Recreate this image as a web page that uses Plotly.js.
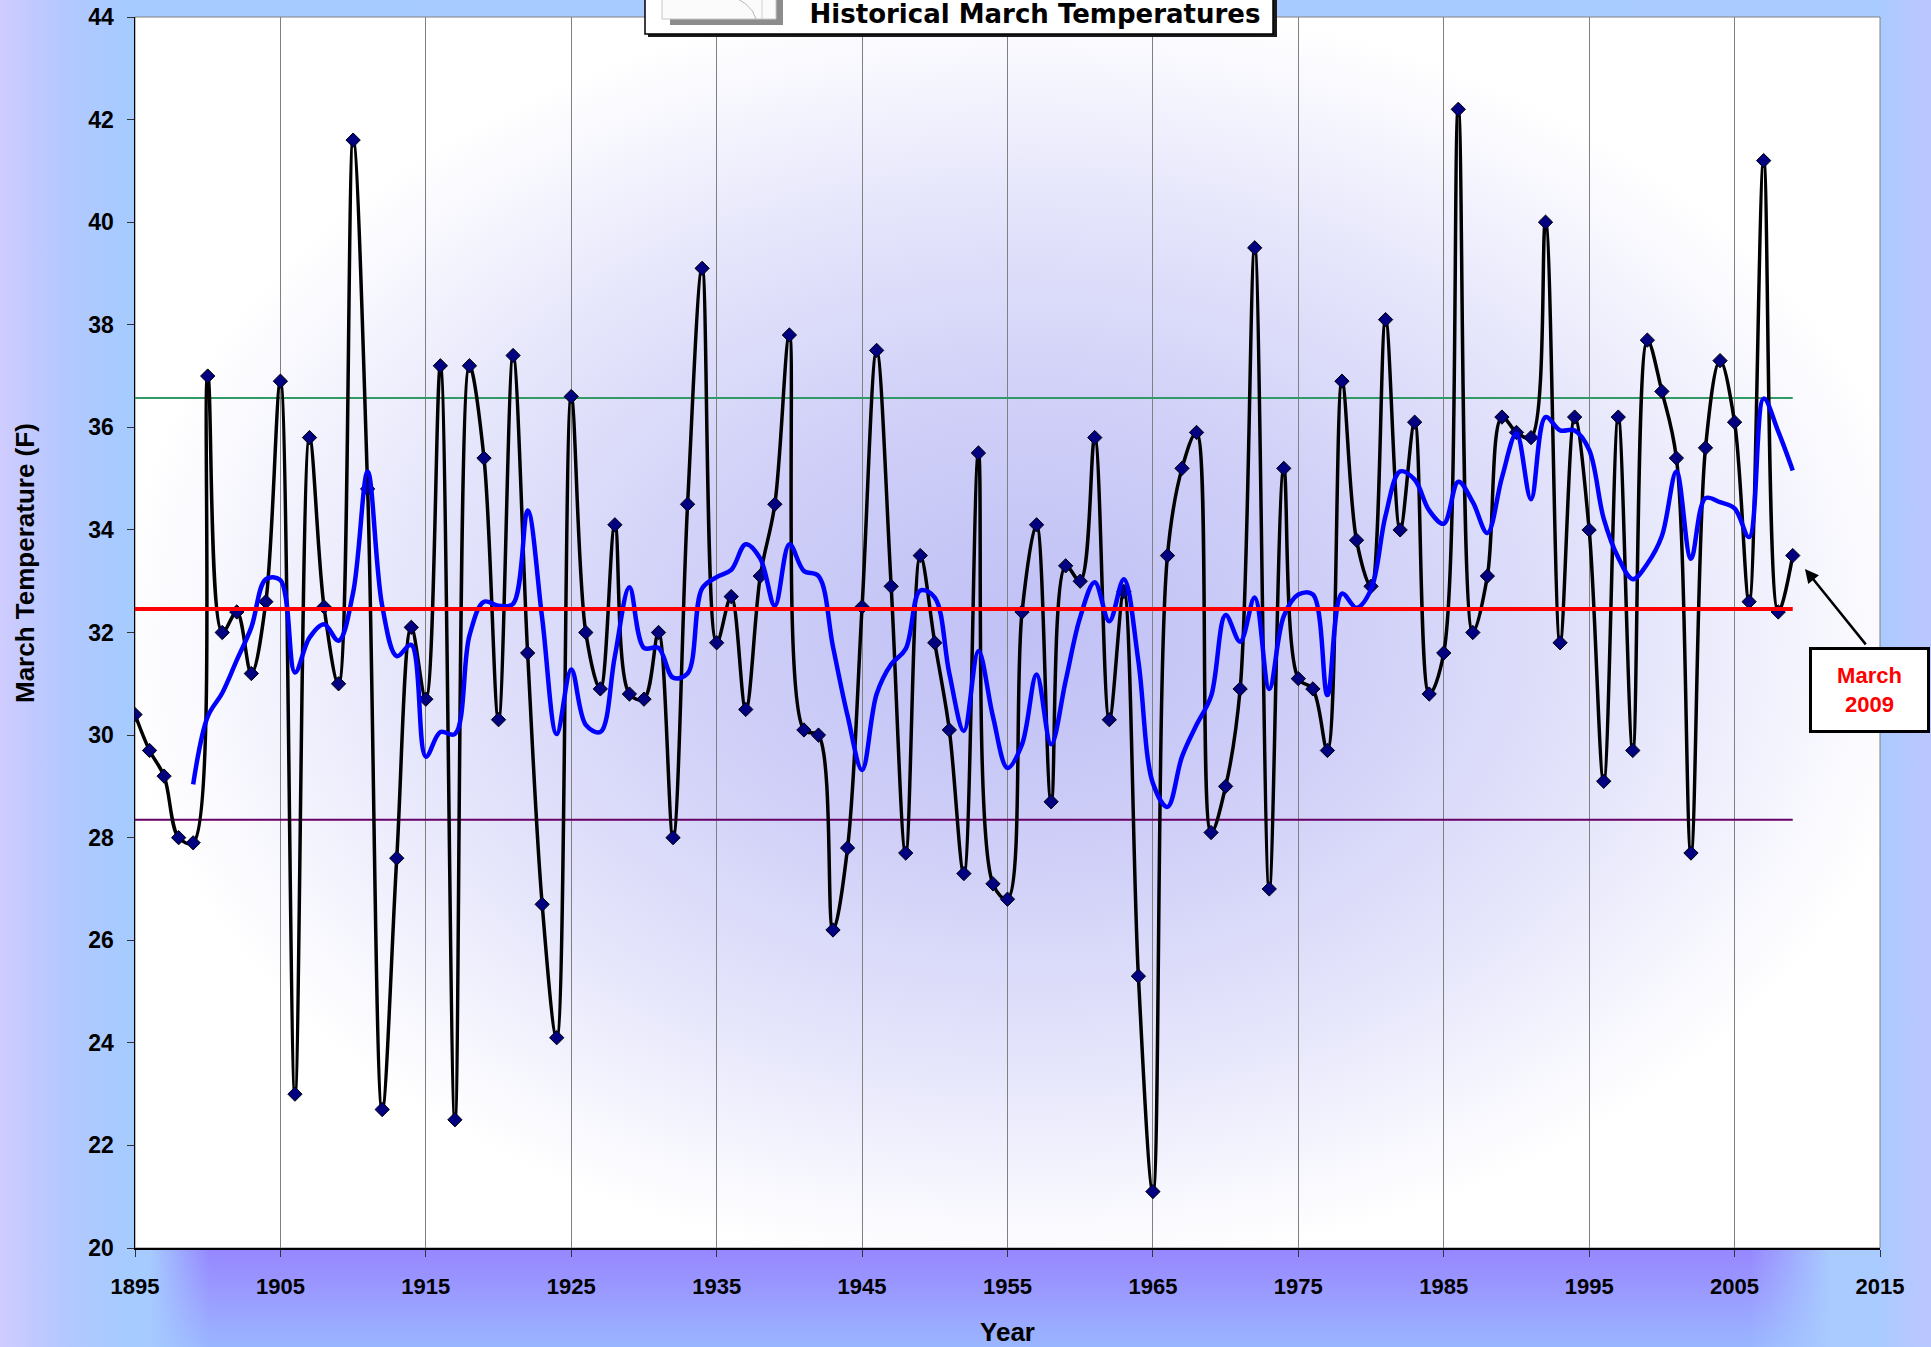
<!DOCTYPE html>
<html>
<head>
<meta charset="utf-8">
<script src="https://cdn.plot.ly/plotly-3.0.1.min.js"></script>
<style>
html,body{margin:0;padding:0;overflow:hidden;background:#A9CBFF;}
#wrap{position:relative;width:1931px;height:1347px;
  background:linear-gradient(to right,#D0CCFF 0px,#B4C8FF 60px,#A6CBFF 125px,#A9CBFF 1880px,#B4C8FF 1905px,#BAC6FF 1931px);}
#plotbg{position:absolute;left:135px;top:17px;width:1745px;height:1231px;
  background:radial-gradient(ellipse 52% 52% at 51% 50%,#C0C0F5 0%,#CFCFF8 35%,#E3E3FB 65%,#F6F6FE 88%,#FFFFFF 100%);}
#band{position:absolute;left:150px;top:1248px;width:1680px;height:99px;
  background:linear-gradient(to bottom,#9686FF 0%,#9A9AFF 45%,#9AB6FF 100%);
  -webkit-mask-image:linear-gradient(to right,transparent 0px,#000 60px,#000 1600px,transparent 1680px);
  mask-image:linear-gradient(to right,transparent 0px,#000 60px,#000 1600px,transparent 1680px);}
#chart{position:absolute;left:0;top:0;width:1931px;height:1347px;}
</style>
</head>
<body>
<div id="wrap">
  <div id="plotbg"></div>
  <div id="band"></div>
  <div id="chart"></div>
</div>
<script>
// ---- data ----
const years = [
  1895,1896,1897,1898,1899,1900,1901,1902,1903,1904,
  1905,1906,1907,1908,1909,1910,1911,1912,1913,1914,
  1915,1916,1917,1918,1919,1920,1921,1922,1923,1924,
  1925,1926,1927,1928,1929,1930,1931,1932,1933,1934,
  1935,1936,1937,1938,1939,1940,1941,1942,1943,1944,
  1945,1946,1947,1948,1949,1950,1951,1952,1953,1954,
  1955,1956,1957,1958,1959,1960,1961,1962,1963,1964,
  1965,1966,1967,1968,1969,1970,1971,1972,1973,1974,
  1975,1976,1977,1978,1979,1980,1981,1982,1983,1984,
  1985,1986,1987,1988,1989,1990,1991,1992,1993,1994,
  1995,1996,1997,1998,1999,2000,2001,2002,2003,2004,
  2005,2006,2007,2008,2009
];
const marchTemps = [
  30.4,29.7,29.2,28.0,27.9,37.0,32.0,32.4,31.2,32.6,
  36.9,23.0,35.8,32.5,31.0,41.6,34.8,22.7,27.6,32.1,
  30.7,37.2,22.5,37.2,35.4,30.3,37.4,31.6,26.7,24.1,
  36.6,32.0,30.9,34.1,30.8,30.7,32.0,28.0,34.5,39.1,
  31.8,32.7,30.5,33.1,34.5,37.8,30.1,30.0,26.2,27.8,
  32.5,37.5,32.9,27.7,33.5,31.8,30.1,27.3,35.5,27.1,
  26.8,32.4,34.1,28.7,33.3,33.0,35.8,30.3,32.8,25.3,
  21.1,33.5,35.2,35.9,28.1,29.0,30.9,39.5,27.0,35.2,
  31.1,30.9,29.7,36.9,33.8,32.9,38.1,34.0,36.1,30.8,
  31.6,42.2,32.0,33.1,36.2,35.9,35.8,40.0,31.8,36.2,
  34.0,29.1,36.2,29.7,37.7,36.7,35.4,27.7,35.6,37.3,
  36.1,32.6,41.2,32.4,33.5
];
// blue 5-year moving-average curve (1899-2009), values as drawn
const maYears = years.slice(4);
const maValues = [
  29.04,30.36,30.82,31.46,32.10,33.04,33.02,31.22,31.90,32.16,
  31.84,32.78,35.14,32.52,31.54,31.76,29.58,30.06,30.02,31.94,
  32.60,32.52,32.56,34.38,32.28,30.02,31.28,30.20,30.06,31.54,
  32.88,31.70,31.70,31.12,31.20,32.86,33.08,33.22,33.72,33.44,
  32.52,33.72,33.20,33.10,31.72,30.38,29.32,30.80,31.38,31.68,
  32.82,32.68,31.20,30.08,31.64,30.36,29.36,29.82,31.18,29.82,
  31.06,32.30,32.98,32.22,33.04,31.44,29.06,28.60,29.58,30.20,
  30.76,32.34,31.82,32.68,30.90,32.32,32.74,32.74,30.78,32.76,
  32.48,32.84,34.28,35.14,34.98,34.38,34.12,34.94,34.54,33.94,
  35.02,35.88,34.60,36.20,35.94,35.94,35.56,34.22,33.46,33.04,
  33.34,33.88,35.14,33.44,34.62,34.54,34.42,33.86,36.56,35.92,
  35.16
];
const meanTemp = 32.46;
const upperTemp = 36.57;
const lowerTemp = 28.35;
const xTickVals = [1895,1905,1915,1925,1935,1945,1955,1965,1975,1985,1995,2005,2015];
const yTickVals = [20,22,24,26,28,30,32,34,36,38,40,42,44];

// ---- geometry helpers (plot area in pixels) ----
const PL = 135, PT = 17, PW = 1745, PH = 1231;
const px = x => (x - PL) / PW;
const py = y => (PT + PH - y) / PH;

const lineEnds = [years[0], years[years.length - 1]];
const boldArial = {family: 'Liberation Sans, Arial, sans-serif', weight: 'bold', color: '#000'};

const traces = [
  {x: lineEnds, y: [upperTemp, upperTemp], mode: 'lines', line: {color: '#339966', width: 2}, hoverinfo: 'skip'},
  {x: lineEnds, y: [lowerTemp, lowerTemp], mode: 'lines', line: {color: '#660066', width: 2}, hoverinfo: 'skip'},
  {x: years, y: marchTemps, mode: 'lines+markers', line: {color: '#000000', width: 3.5, shape: 'spline', smoothing: 1},
   marker: {symbol: 'diamond', size: 11, color: '#000080', line: {color: '#000000', width: 1}}},
  {x: maYears, y: maValues, mode: 'lines', line: {color: '#0000FF', width: 4.5, shape: 'spline', smoothing: 1}},
  {x: lineEnds, y: [meanTemp, meanTemp], mode: 'lines', line: {color: '#FF0000', width: 4}, hoverinfo: 'skip'}
];

const layout = {
  width: 1931, height: 1347,
  margin: {l: PL, r: 1931 - PL - PW, t: PT, b: 1347 - PT - PH, pad: 0},
  paper_bgcolor: 'rgba(0,0,0,0)', plot_bgcolor: 'rgba(0,0,0,0)',
  showlegend: false,
  title: {
    text: 'Historical March Temperatures',
    font: {family: 'DejaVu Sans, sans-serif', size: 26, weight: 'bold', color: '#000'},
    xref: 'container', yref: 'container',
    x: 1035 / 1931, xanchor: 'center', y: 1 - 14 / 1347, yanchor: 'middle'
  },
  xaxis: {
    range: [1895, 2015], tickmode: 'array', tickvals: xTickVals,
    showgrid: true, gridcolor: '#808080', gridwidth: 1, zeroline: false,
    showline: true, linecolor: '#000', linewidth: 2,
    ticks: 'outside', ticklen: 7, tickwidth: 1, tickcolor: '#333',
    tickfont: Object.assign({size: 22}, boldArial), ticklabelstandoff: 11,
    title: {text: 'Year', font: Object.assign({size: 26}, boldArial), standoff: 33}
  },
  yaxis: {
    range: [20, 44], tickmode: 'array', tickvals: yTickVals,
    showgrid: false, zeroline: false,
    showline: true, linecolor: '#000', linewidth: 1.5,
    ticks: 'outside', ticklen: 7, tickwidth: 1, tickcolor: '#333',
    tickfont: Object.assign({size: 23}, boldArial), ticklabelstandoff: 8
  },
  shapes: [
    {type: 'rect', xref: 'paper', yref: 'paper', x0: 0, x1: 1, y0: 0, y1: 1,
     line: {color: '#808080', width: 1}, layer: 'below'},
    // title box shadow + box
    {type: 'rect', xref: 'paper', yref: 'paper', x0: px(648), x1: px(1277), y0: py(37), y1: py(-4),
     fillcolor: '#1a1a1a', line: {width: 0}},
    {type: 'rect', xref: 'paper', yref: 'paper', x0: px(645), x1: px(1273), y0: py(34), y1: py(-8),
     fillcolor: '#ffffff', line: {color: '#000', width: 1.5}},
    // small picture icon in the title box
    {type: 'rect', xref: 'paper', yref: 'paper', x0: px(670), x1: px(783), y0: py(25), y1: py(0),
     fillcolor: '#8c8c8c', line: {width: 0}},
    {type: 'rect', xref: 'paper', yref: 'paper', x0: px(662), x1: px(776), y0: py(19), y1: py(-8),
     fillcolor: '#fbfbfb', line: {color: '#c8c8c8', width: 1}},
    {type: 'path', xref: 'paper', yref: 'paper',
     path: 'M ' + px(722) + ' ' + py(-8) + ' Q ' + px(752) + ' ' + py(2) + ' ' + px(756) + ' ' + py(19),
     line: {color: '#b8b8b8', width: 1}},
    {type: 'line', xref: 'paper', yref: 'paper', x0: px(762), x1: px(762), y0: py(-8), y1: py(19),
     line: {color: '#d0d0d0', width: 1}}
  ],
  annotations: [
    // y-axis title (placed where the reference puts it, above the plot centre)
    {xref: 'paper', yref: 'paper', x: px(25), y: py(563), xanchor: 'center', yanchor: 'middle',
     showarrow: false, textangle: -90, text: 'March Temperature (F)',
     font: Object.assign({size: 26}, boldArial)},
    {xref: 'paper', yref: 'paper', x: px(1869), y: py(690), xanchor: 'center', yanchor: 'middle',
     showarrow: false, text: 'March<br>2009',
     font: {family: 'Liberation Sans, Arial, sans-serif', size: 22, weight: 'bold', color: '#FF0000'},
     bgcolor: '#ffffff', bordercolor: '#000', borderwidth: 3, borderpad: 1, width: 113, height: 78, align: 'center'},
    {xref: 'x', yref: 'y', x: years[years.length - 1] + 0.84, y: 33.24, ax: 62, ay: 77,
     text: '', showarrow: true, arrowhead: 2, arrowsize: 1.1, arrowwidth: 2.5, arrowcolor: '#000',
     standoff: 0, startstandoff: 0}
  ]
};

Plotly.newPlot('chart', traces, layout, {displayModeBar: false, staticPlot: true});
</script>
</body>
</html>
